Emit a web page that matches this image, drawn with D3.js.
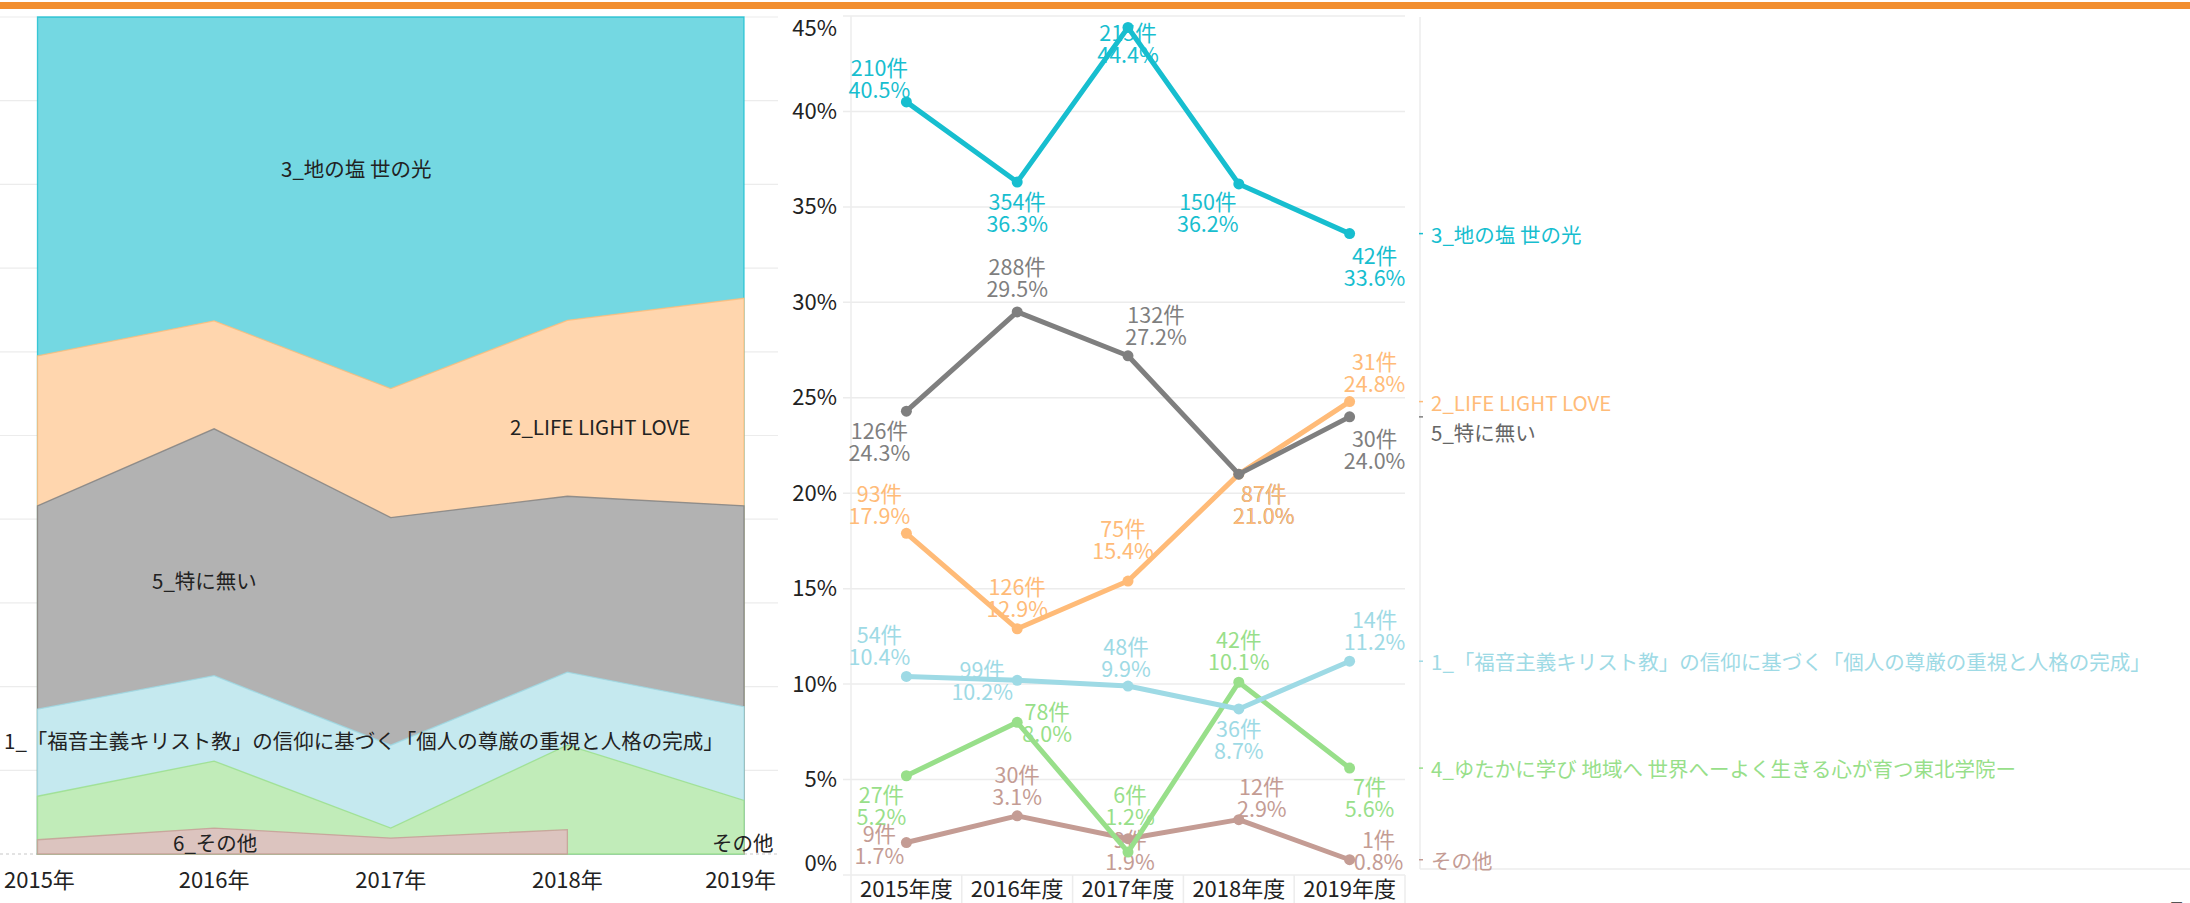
<!DOCTYPE html>
<html>
<head>
<meta charset="utf-8">
<script src="https://cdn.jsdelivr.net/npm/d3@7"></script>
<style>
  body { margin: 0; background: #fff; }
  text { font-family: "Noto Sans CJK JP", "Noto Sans", sans-serif; }
</style>
</head>
<body>
<svg id="chart"></svg>
<script>
// ---- data ----
var years = [2015, 2016, 2017, 2018, 2019];
var areaYearLabels = ["2015年", "2016年", "2017年", "2018年", "2019年"];
var lineYearLabels = ["2015年度", "2016年度", "2017年度", "2018年度", "2019年度"];

var nameChi = "3_地の塩 世の光";
var nameLife = "2_LIFE LIGHT LOVE";
var nameNone = "5_特に無い";
var nameFukuin = "1_「福音主義キリスト教」の信仰に基づく「個人の尊厳の重視と人格の完成」";
var nameYutaka = "4_ゆたかに学び 地域へ 世界へーよく生きる心が育つ東北学院ー";
var nameOther = "その他";

// percent share per year
var pctChi    = [40.5, 36.3, 44.4, 36.2, 33.6];
var pctNone   = [24.3, 29.5, 27.2, 21.0, 24.0];
var pctLife   = [17.9, 12.9, 15.4, 21.0, 24.8];
var pctFukuin = [10.4, 10.2, 9.9, 8.7, 11.2];
var pctYutaka = [5.2, 8.0, 1.2, 10.1, 5.6];
var pctOther  = [1.7, 3.1, 1.9, 2.9, 0.8];

// number of answers per year
var cntChi    = [210, 354, 215, 150, 42];
var cntNone   = [126, 288, 132, 87, 30];
var cntLife   = [93, 126, 75, 87, 31];
var cntFukuin = [54, 99, 48, 36, 14];
var cntYutaka = [27, 78, 6, 42, 7];
var cntOther  = [9, 30, 9, 12, 1];

// the "other" category is called differently in the area chart
var otherAreaNames = ["6_その他", "6_その他", "6_その他", "6_その他", "その他"];

var series = [
  {name: nameChi,    color: "#17becf", pct: pctChi,    cnt: cntChi},
  {name: nameNone,   color: "#7f7f7f", pct: pctNone,   cnt: cntNone},
  {name: nameLife,   color: "#ffbb78", pct: pctLife,   cnt: cntLife},
  {name: nameFukuin, color: "#9edae5", pct: pctFukuin, cnt: cntFukuin},
  {name: nameYutaka, color: "#98df8a", pct: pctYutaka, cnt: cntYutaka},
  {name: nameOther,  color: "#c49c94", pct: pctOther,  cnt: cntOther}
];
var colorOf = {};
series.forEach(function(s){ colorOf[s.name] = s.color; });
colorOf["6_その他"] = "#c49c94";

// where each point label sits relative to its point [dx, dy of first line]
var labelOffsets = {};
labelOffsets[nameChi]    = [[-27,-36],[0,18],[0,4],[-31,16],[25,20]];
labelOffsets[nameNone]   = [[-27,18],[0,-47],[28,-43],[25,18],[25,20]];
labelOffsets[nameLife]   = [[-27,-41],[0,-44],[-5,-54],[25,18],[25,-42]];
labelOffsets[nameFukuin] = [[-27,-43],[-35,-12],[-2,-41],[0,18],[25,-43]];
labelOffsets[nameYutaka] = [[-25,17],[30,-12],[2,-59],[0,-44],[20,17]];
labelOffsets[nameOther]  = [[-27,-11],[0,-43],[2,-1],[23,-35],[29,-22]];

var W = 2190, H = 903;
var svg = d3.select("#chart").attr("width", W).attr("height", H);

// top orange band
svg.append("rect").attr("x", 0).attr("y", 2).attr("width", W).attr("height", 7).attr("fill", "#f28f30");

// =============== left: 100% stacked area ===============
var areaLeft = 37.5, areaRight = 744, areaTop = 17, areaBottom = 854;
var xA = d3.scalePoint().domain(years).range([areaLeft, areaRight]);
var yA = d3.scaleLinear().domain([0, 1]).range([areaBottom, areaTop]);

var stackKeys = ["6_その他", "その他", nameYutaka, nameFukuin, nameNone, nameLife, nameChi];
var rows = years.map(function(yr, i){
  var r = {year: yr, present: {}};
  r["6_その他"] = 0; r["その他"] = 0;
  r[otherAreaNames[i]] = pctOther[i];
  r.present[otherAreaNames[i]] = true;
  [nameYutaka, nameFukuin, nameNone, nameLife, nameChi].forEach(function(n){
    var s = series.find(function(d){ return d.name === n; });
    r[n] = s.pct[i];
    r.present[n] = true;
  });
  return r;
});
var stacked = d3.stack().keys(stackKeys).offset(d3.stackOffsetExpand)(rows);

// gridlines
var gA = svg.append("g");
gA.selectAll("line.grid").data(d3.range(0, 1.0001, 0.1))
  .enter().append("line")
  .attr("x1", 0).attr("x2", 778)
  .attr("y1", function(d){ return yA(d); }).attr("y2", function(d){ return yA(d); })
  .attr("stroke", function(d){ return d === 0 ? "#c8c8c8" : "#ececec"; })
  .attr("stroke-dasharray", function(d){ return d === 0 ? "3,3" : null; })
  .attr("stroke-width", 1.2);

// each band is painted from the baseline up to its top, top layer first,
// so a missing year leaves the layer above reaching down to the baseline
stacked.slice().reverse().forEach(function(layer){
  var key = layer.key;
  var area = d3.area()
    .defined(function(d){ return d.data.present[key]; })
    .x(function(d){ return xA(d.data.year); })
    .y0(areaBottom)
    .y1(function(d){ return yA(d[1]); });
  gA.append("path")
    .datum(layer)
    .attr("d", area)
    .attr("fill", d3.interpolateRgb("#ffffff", colorOf[key])(0.6))
    .attr("stroke", colorOf[key])
    .attr("stroke-opacity", 0.8)
    .attr("stroke-width", 1.3);
});

// labels inside the areas
var areaLabels = [
  {text: nameChi, x: 281, y: 168},
  {text: nameLife, x: 510, y: 426},
  {text: nameNone, x: 152, y: 580},
  {text: nameFukuin, x: 4, y: 740},
  {text: "6_その他", x: 173, y: 842},
  {text: "その他", x: 712, y: 842}
];
gA.selectAll("text.alabel").data(areaLabels).enter().append("text")
  .attr("x", function(d){ return d.x; })
  .attr("y", function(d){ return d.y; })
  .attr("dominant-baseline", "central")
  .attr("font-size", 20.5)
  .attr("fill", "#222")
  .text(function(d){ return d.text; });

// x axis of the area chart
var axA = svg.append("g").attr("transform", "translate(0," + 878 + ")");
axA.selectAll("text").data(years).enter().append("text")
  .attr("x", function(d){ return xA(d); })
  .attr("y", 0)
  .attr("dominant-baseline", "central")
  .attr("text-anchor", "middle")
  .attr("font-size", 22)
  .attr("fill", "#222")
  .text(function(d, i){ return areaYearLabels[i]; })
  .each(function(){
    var bb = this.getBBox();
    var sh = 0;
    if (bb.x < 4) sh = 4 - bb.x;
    if (bb.x + bb.width > 776) sh = 776 - (bb.x + bb.width);
    d3.select(this).attr("x", +d3.select(this).attr("x") + sh);
  });

// =============== middle: line chart ===============
var lineLeft = 851, lineRight = 1405, lineTop = 16, lineBottom = 875;
var xL = d3.scaleBand().domain(years).range([lineLeft, lineRight]);
var yL = d3.scaleLinear().domain([0, 45]).range([lineBottom, lineTop]);
var cx = function(yr){ return xL(yr) + xL.bandwidth() / 2; };

var gL = svg.append("g");
var ticks = d3.range(0, 46, 5);
gL.selectAll("line.grid").data(ticks).enter().append("line")
  .attr("x1", lineLeft - 8).attr("x2", lineRight)
  .attr("y1", function(d){ return yL(d); }).attr("y2", function(d){ return yL(d); })
  .attr("stroke", "#ececec").attr("stroke-width", 1.5);
gL.append("line").attr("x1", lineLeft).attr("x2", lineLeft)
  .attr("y1", lineTop).attr("y2", H).attr("stroke", "#ececec").attr("stroke-width", 1.5);
// column separators under the x axis
gL.selectAll("line.sep").data(years.slice(1).concat(["end"])).enter().append("line")
  .attr("x1", function(d){ return d === "end" ? lineRight : xL(d); })
  .attr("x2", function(d){ return d === "end" ? lineRight : xL(d); })
  .attr("y1", lineBottom).attr("y2", H)
  .attr("stroke", "#ececec").attr("stroke-width", 1.5);

// y axis
var yAxis = d3.axisLeft(yL).tickValues(ticks).tickSize(0).tickPadding(14)
  .tickFormat(function(d){ return d + "%"; });
var gy = svg.append("g").attr("transform", "translate(" + lineLeft + ",0)").call(yAxis);
gy.select(".domain").remove();
gy.selectAll("text").attr("font-size", 22).attr("fill", "#222")
  .attr("font-family", "\"Noto Sans CJK JP\", sans-serif")
  .attr("dy", function(d){ return d === 45 ? "0.9em" : (d === 0 ? "-0.2em" : "0.32em"); });

// x axis
var xAxis = d3.axisBottom(xL).tickSize(0).tickPadding(0)
  .tickFormat(function(d, i){ return lineYearLabels[i]; });
var gx = svg.append("g").attr("transform", "translate(0," + 890 + ")").call(xAxis);
gx.select(".domain").remove();
gx.selectAll("text").attr("font-size", 22).attr("fill", "#222")
  .attr("font-family", "\"Noto Sans CJK JP\", sans-serif")
  .attr("dy", "0.32em").attr("y", 0);

// point labels (drawn under the lines)
var gLab = gL.append("g");
series.forEach(function(s){
  years.forEach(function(yr, i){
    var off = labelOffsets[s.name][i];
    var px = cx(yr) + off[0], py = yL(s.pct[i]) + off[1];
    var t = gLab.append("text")
      .attr("x", px).attr("y", py)
      .attr("text-anchor", "middle")
      .attr("dominant-baseline", "central")
      .attr("font-size", 21.5)
      .attr("fill", s.color);
    t.append("tspan").attr("x", px).attr("y", py).text(s.cnt[i] + "件");
    t.append("tspan").attr("x", px).attr("y", py + 22).text(s.pct[i].toFixed(1) + "%");
  });
});

var line = d3.line()
  .x(function(d, i){ return cx(years[i]); })
  .y(function(d){ return yL(d); });

series.slice().reverse().forEach(function(s){
  gL.append("path").datum(s.pct)
    .attr("d", line)
    .attr("fill", "none")
    .attr("stroke", s.color)
    .attr("stroke-width", 5)
    .attr("stroke-linejoin", "round");
  gL.selectAll(null).data(s.pct).enter().append("circle")
    .attr("cx", function(d, i){ return cx(years[i]); })
    .attr("cy", function(d){ return yL(d); })
    .attr("r", 5.5)
    .attr("fill", s.color);
});

// =============== right: end-of-line legend ===============
var legX = 1420;
svg.append("line").attr("x1", legX).attr("x2", legX).attr("y1", 17).attr("y2", 869)
  .attr("stroke", "#ececec").attr("stroke-width", 1.5);
svg.append("line").attr("x1", legX).attr("x2", W).attr("y1", 869).attr("y2", 869)
  .attr("stroke", "#ececec").attr("stroke-width", 1.5);

var legendItems = series.map(function(s){
  return {name: s.name, color: s.color, y: yL(s.pct[s.pct.length - 1])};
}).sort(function(a, b){ return a.y - b.y; });
var lastY = -Infinity;
legendItems.forEach(function(d){
  d.ty = Math.max(d.y, lastY + 30);
  lastY = d.ty;
});
var gLeg = svg.append("g");
gLeg.selectAll("line").data(legendItems).enter().append("line")
  .attr("x1", legX - 1).attr("x2", legX + 3)
  .attr("y1", function(d){ return d.y; }).attr("y2", function(d){ return d.y; })
  .attr("stroke", function(d){ return d.color; }).attr("stroke-width", 1.5);
gLeg.selectAll("text").data(legendItems).enter().append("text")
  .attr("x", legX + 11)
  .attr("y", function(d){ return d.ty; })
  .attr("dominant-baseline", "central")
  .attr("font-size", 20.5)
  .attr("fill", function(d){ return d.color === "#7f7f7f" ? "#666" : d.color; })
  .text(function(d){ return d.name; });

// cut-off page number at the bottom right corner
svg.append("text").attr("x", 2168).attr("y", 924).attr("font-size", 30)
  .attr("fill", "#555").text("5");
</script>
</body>
</html>
